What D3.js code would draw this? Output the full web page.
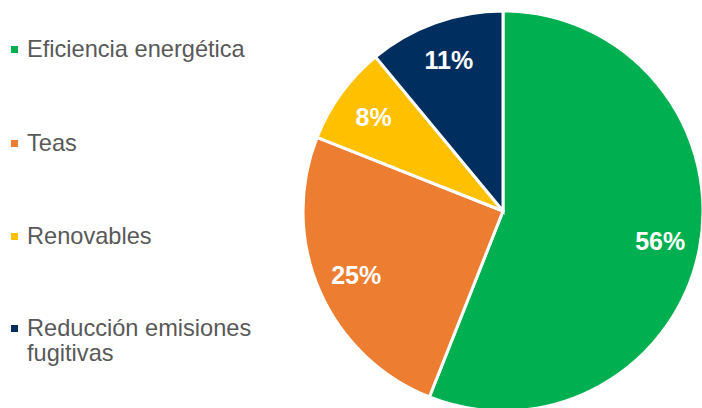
<!DOCTYPE html>
<html>
<head>
<meta charset="utf-8">
<script src="https://cdn.jsdelivr.net/npm/d3@7"></script>
<style>
  body { margin: 0; background: #fff; }
  svg { display: block; font-family: "Liberation Sans", Arial, sans-serif; }
</style>
</head>
<body>
<div id="chart"></div>
<script>
// data
var categories = ["Eficiencia energética", "Teas", "Renovables", "Reducción emisiones fugitivas"];
var values = [56, 25, 8, 11];
var colors = ["#00B050", "#ED7D31", "#FFC000", "#002F5F"];
var legendLines = [["Eficiencia energética"], ["Teas"], ["Renovables"], ["Reducción emisiones", "fugitivas"]];

var width = 702, height = 408;
var cx = 503, cy = 211, radius = 200;

var svg = d3.select("#chart").append("svg")
    .attr("width", width)
    .attr("height", height);

var data = categories.map(function(c, i) { return { name: c, value: values[i], color: colors[i] }; });

var pie = d3.pie().sort(null).value(function(d) { return d.value; });
var arc = d3.arc().innerRadius(0).outerRadius(radius);
var labelArc = d3.arc().innerRadius(160).outerRadius(160);

var g = svg.append("g").attr("transform", "translate(" + cx + "," + cy + ")");

g.selectAll("path")
  .data(pie(data))
  .enter()
  .append("path")
  .attr("d", arc)
  .attr("fill", function(d) { return d.data.color; })
  .attr("stroke", "#fff")
  .attr("stroke-width", 3)
  .attr("stroke-linejoin", "miter");

g.selectAll("text.lbl")
  .data(pie(data))
  .enter()
  .append("text")
  .attr("class", "lbl")
  .attr("transform", function(d) { return "translate(" + labelArc.centroid(d) + ")"; })
  .attr("text-anchor", "middle")
  .attr("dy", "0.36em")
  .style("font-size", "25px")
  .style("font-weight", "bold")
  .style("fill", "#fff")
  .text(function(d) { return d.data.value + "%"; });

// legend
var legend = svg.append("g");
var rowY = [49, 143, 236, 328];

var item = legend.selectAll("g")
  .data(data)
  .enter()
  .append("g")
  .attr("transform", function(d, i) { return "translate(0," + rowY[i] + ")"; });

item.append("rect")
  .attr("x", 11)
  .attr("y", -3)
  .attr("width", 7)
  .attr("height", 7)
  .attr("fill", function(d) { return d.color; });

item.append("text")
  .attr("x", 27)
  .style("font-size", "23.6px")
  .style("fill", "#595959")
  .each(function(d, i) {
    var t = d3.select(this);
    legendLines[i].forEach(function(line, j) {
      t.append("tspan").attr("x", 27).attr("dy", j === 0 ? "0.35em" : "25px").text(line);
    });
  });
</script>
</body>
</html>
